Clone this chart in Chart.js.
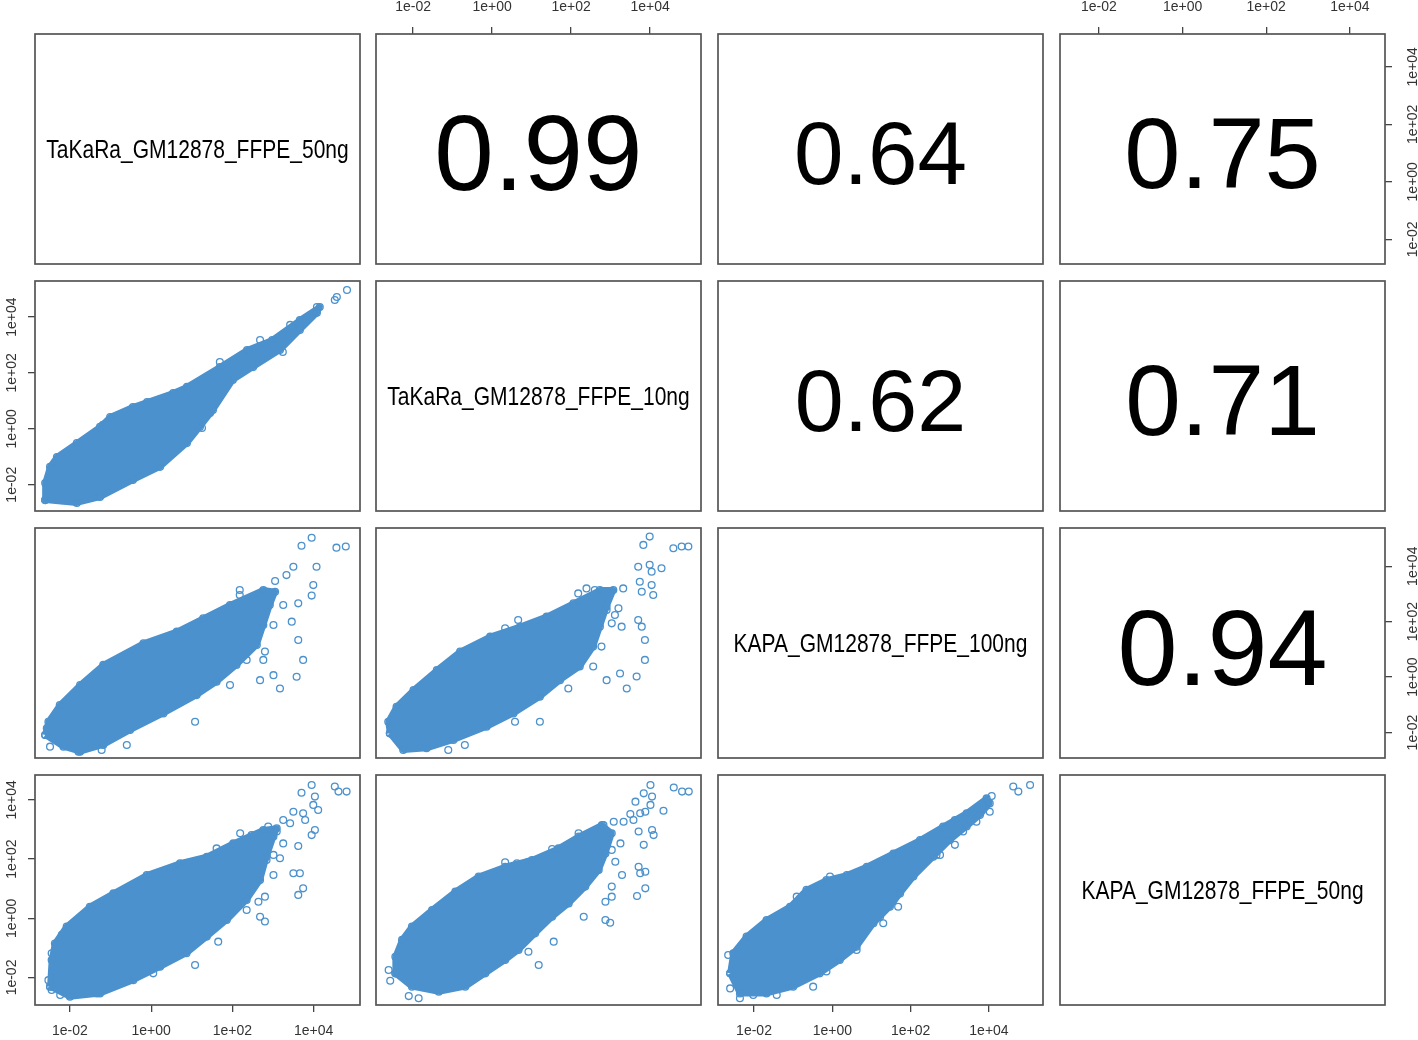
<!DOCTYPE html>
<html>
<head>
<meta charset="utf-8">
<script src="https://cdn.jsdelivr.net/npm/chart.js@4.4.1/dist/chart.umd.min.js"></script>
<style>
  html, body { margin: 0; padding: 0; background: #fff; }
  #wrap { position: relative; width: 1418px; height: 1040px; overflow: hidden; }
  #wrap canvas { position: absolute; }
</style>
</head>
<body>
<div id="wrap"></div>
<script>
// variables of the pairs plot (diagonal labels)
const varNames = ['TaKaRa_GM12878_FFPE_50ng', 'TaKaRa_GM12878_FFPE_10ng', 'KAPA_GM12878_FFPE_100ng', 'KAPA_GM12878_FFPE_50ng'];
// axis limits of each variable, in log10 units
const axisMin = [-2.86, -2.94, -2.92, -2.93];
const axisMax = [5.14, 5.29, 5.38, 4.84];
const tickValues = [-2, 0, 2, 4];
const tickLabels = ['1e-02', '1e+00', '1e+02', '1e+04'];

// upper panels: correlation text
const corrPairs = [[0, 1], [0, 2], [0, 3], [1, 2], [1, 3], [2, 3]];
const corrLabels = ['0.99', '0.64', '0.75', '0.62', '0.71', '0.94'];

// lower panels: outline of the dense cloud + stray points, [log10 x, log10 y]
const cloud21 = [[-2.61,-2.55],[-1.83,-2.65],[-1.26,-2.44],[-0.45,-1.83],[0.22,-1.36],[0.88,-0.51],[1.20,0.07],[1.52,0.67],[2.01,1.75],[2.51,2.21],[3.17,2.82],[3.66,3.54],[4.08,4.15],[4.15,4.36],[3.66,3.89],[2.98,3.18],[2.36,2.82],[1.69,2.21],[0.88,1.50],[0.54,1.28],[-0.10,0.96],[-0.45,0.78],[-1.01,0.42],[-1.26,0.07],[-1.83,-0.51],[-2.32,-1.01],[-2.49,-1.36],[-2.61,-1.94]];
const out21 = [[4.82,4.97],[4.57,4.72],[4.52,4.61],[4.08,4.36],[3.24,2.75],[2.68,3.18],[1.69,2.39],[1.25,0.03],[1.45,0.57],[-0.60,0.50],[-1.19,0.14],[-2.56,-2.26],[-2.20,-2.55],[3.42,3.72],[3.85,3.97]];

const cloud31 = [[-2.61,-2.09],[-2.16,-2.51],[-1.75,-2.69],[-1.18,-2.45],[-0.52,-1.91],[0.30,-1.31],[1.12,-0.65],[1.61,-0.17],[2.10,0.44],[2.60,1.16],[2.76,1.88],[2.92,2.60],[3.05,3.08],[2.76,3.14],[1.94,2.60],[1.28,2.12],[0.63,1.64],[-0.19,1.22],[-1.18,0.44],[-1.75,-0.29],[-2.25,-1.01],[-2.53,-1.61]];
const out31 = [[3.95,5.03],[3.70,4.74],[4.56,4.67],[4.79,4.71],[3.50,3.98],[4.07,3.98],[3.99,3.32],[3.33,3.68],[3.05,3.47],[2.18,3.14],[2.18,2.96],[3.62,2.66],[3.95,2.94],[3.25,2.60],[3.46,2.00],[3.01,1.88],[3.62,1.34],[3.74,0.62],[2.76,0.62],[2.35,0.62],[3.01,0.07],[3.58,0.01],[2.68,-0.11],[3.17,-0.41],[1.94,-0.29],[1.08,-1.61],[-0.60,-2.45],[-1.22,-2.63],[-1.79,-2.69],[-2.57,-1.85],[-2.49,-2.51],[2.80,0.92]];

const cloud32 = [[-2.59,-2.03],[-2.25,-2.63],[-1.66,-2.57],[-0.98,-2.27],[-0.14,-1.79],[0.54,-1.31],[1.21,-0.71],[1.72,-0.11],[2.22,0.38],[2.56,1.10],[2.73,1.82],[2.90,2.54],[3.07,3.14],[2.73,3.14],[2.06,2.66],[1.38,2.18],[0.71,1.82],[-0.05,1.46],[-0.81,0.92],[-1.40,0.25],[-1.99,-0.47],[-2.42,-1.07],[-2.63,-1.61]];
const out32 = [[3.99,5.07],[3.83,4.77],[4.59,4.65],[4.80,4.71],[4.97,4.71],[3.70,3.98],[3.99,4.05],[4.29,3.93],[4.04,3.80],[3.74,3.44],[4.04,3.32],[3.79,3.08],[4.08,2.96],[3.32,3.20],[2.60,3.14],[2.39,3.20],[2.18,3.02],[3.20,2.48],[2.90,2.42],[3.11,2.24],[3.03,1.94],[3.28,1.82],[3.70,2.06],[3.79,1.82],[3.87,1.34],[3.87,0.62],[3.66,0.02],[3.41,-0.41],[3.24,0.13],[2.90,-0.11],[2.56,0.38],[2.77,1.10],[1.93,-0.41],[1.21,-1.61],[0.58,-1.61],[0.66,2.06],[0.33,1.76],[-0.69,-2.45],[-1.11,-2.63]];

const cloud41 = [[-2.49,-2.31],[-2.00,-2.65],[-1.26,-2.54],[-0.44,-2.09],[0.22,-1.64],[0.87,-1.18],[1.37,-0.62],[1.86,-0.06],[2.35,0.62],[2.68,1.29],[2.84,2.08],[3.01,2.76],[3.09,3.04],[2.76,2.98],[2.02,2.53],[1.37,2.08],[0.71,1.86],[-0.11,1.46],[-0.93,0.84],[-1.51,0.39],[-2.08,-0.28],[-2.37,-0.85],[-2.45,-1.41]];
const out41 = [[3.95,4.50],[3.70,4.24],[4.03,4.11],[4.52,4.45],[4.61,4.28],[4.81,4.28],[3.50,3.60],[3.74,3.55],[3.99,3.83],[4.11,3.66],[3.25,3.32],[3.42,3.21],[3.79,3.32],[2.88,3.10],[2.19,2.87],[2.47,2.81],[3.09,2.93],[3.25,2.53],[3.62,2.44],[3.95,2.81],[4.03,2.98],[3.01,2.14],[3.17,2.03],[2.84,1.97],[2.68,2.25],[3.50,1.52],[3.66,1.52],[3.01,1.46],[2.51,1.63],[3.74,1.01],[3.62,0.79],[2.39,1.18],[2.80,0.73],[2.64,0.56],[2.35,0.28],[2.68,0.05],[2.80,-0.11],[1.65,-0.79],[1.08,-1.58],[0.05,-1.86],[-1.34,-2.54],[-2.24,-2.59],[-2.45,-2.42],[-2.53,-2.09],[-2.45,-1.18],[-2.20,-0.56],[1.61,2.36]];

const cloud42 = [[-2.45,-1.86],[-2.03,-2.31],[-1.35,-2.48],[-0.68,-2.31],[-0.17,-1.86],[0.33,-1.41],[0.67,-1.07],[1.09,-0.51],[1.52,0.05],[1.94,0.50],[2.36,1.07],[2.70,1.63],[2.87,2.19],[3.03,2.87],[2.78,3.15],[2.19,2.76],[1.68,2.36],[1.01,1.97],[0.33,1.74],[-0.34,1.41],[-0.93,0.90],[-1.52,0.28],[-2.03,-0.28],[-2.28,-0.73],[-2.45,-1.30]];
const out42 = [[4.01,4.50],[3.84,4.22],[4.05,4.11],[4.60,4.42],[4.81,4.28],[4.98,4.28],[3.63,3.94],[4.01,3.83],[4.34,3.63],[3.50,3.52],[3.75,3.55],[3.88,3.60],[2.82,3.15],[3.08,3.26],[3.33,3.26],[3.58,3.32],[2.19,2.87],[1.52,2.34],[1.18,1.91],[0.63,1.86],[0.33,1.89],[0.92,1.91],[3.71,2.93],[4.05,2.98],[4.09,2.81],[3.25,2.53],[3.84,2.48],[3.03,2.31],[3.12,1.91],[3.71,1.74],[3.88,1.57],[3.75,1.52],[3.29,1.46],[3.03,1.07],[3.67,0.75],[3.88,1.01],[2.87,0.56],[3.03,0.73],[2.87,-0.06],[2.99,-0.15],[2.32,0.05],[1.56,-0.79],[1.18,-1.58],[0.92,-1.13],[-1.86,-2.70],[-2.11,-2.63],[-2.62,-1.75],[-2.58,-2.11]];

const cloud43 = [[-2.61,-1.86],[-2.36,-2.54],[-1.68,-2.54],[-1.00,-2.31],[-0.32,-1.86],[0.19,-1.41],[0.62,-0.96],[1.05,-0.17],[1.47,0.39],[1.73,0.84],[2.07,1.41],[2.58,2.08],[3.00,2.64],[3.43,3.10],[3.77,3.49],[4.02,3.88],[3.94,4.05],[3.43,3.55],[2.83,3.10],[2.24,2.64],[1.56,2.19],[0.88,1.74],[0.37,1.46],[-0.15,1.29],[-0.66,0.96],[-1.08,0.39],[-1.68,-0.06],[-2.19,-0.62],[-2.53,-1.18]];
const out43 = [[4.62,4.45],[4.75,4.28],[5.05,4.50],[4.07,4.13],[3.94,3.88],[4.02,3.60],[3.68,3.60],[3.43,3.49],[3.68,3.26],[3.13,3.32],[3.34,2.93],[3.13,2.48],[2.75,2.14],[2.66,2.14],[1.98,2.36],[1.64,1.97],[1.30,-0.17],[1.68,0.39],[1.56,0.62],[1.22,0.05],[0.62,-1.07],[-0.15,-1.80],[-0.49,-2.31],[-1.42,-2.59],[-2.02,-2.59],[-2.36,-2.70],[-2.61,-2.37],[-2.66,-1.24],[-2.27,-1.30],[-0.83,0.67],[-0.91,0.73],[-1.98,-0.56],[-1.34,0.11],[0.79,1.63],[-0.06,1.41]];

const scatterPanels = {
  '1-0': [cloud21, out21],
  '2-0': [cloud31, out31],
  '2-1': [cloud32, out32],
  '3-0': [cloud41, out41],
  '3-1': [cloud42, out42],
  '3-2': [cloud43, out43]
};

// layout and style
const M = 45;
const colLeft = [35, 376, 718, 1060];
const rowTop = [34, 281, 528, 775];
const PW = 325, PH = 230;
const blue = '#4b91cd';
const sans = "'Liberation Sans', Arial, sans-serif";
const corrSize = { '0.99': 107, '0.64': 89, '0.75': 101, '0.62': 88, '0.71': 100, '0.94': 108 };

const panelPlugin = {
  id: 'panel',
  afterDraw(chart, args, opts) {
    const { ctx, chartArea: a } = chart;
    ctx.save();
    ctx.strokeStyle = '#555';
    ctx.lineWidth = 1.7;
    ctx.strokeRect(a.left, a.top, a.right - a.left, a.bottom - a.top);
    if (opts.text) {
      const cx = (a.left + a.right) / 2;
      const cy = (a.top + a.bottom) / 2;
      ctx.fillStyle = '#000';
      ctx.font = opts.size + 'px ' + sans;
      ctx.textAlign = 'center';
      ctx.textBaseline = 'alphabetic';
      // R's Helvetica text is narrower than Liberation Sans
      ctx.translate(cx, cy);
      ctx.scale(opts.squeeze, 1);
      ctx.fillText(opts.text, 0, opts.size * 0.358 + opts.dy);
    }
    ctx.restore();
  }
};

function toPts(arr) {
  return arr.map(p => ({ x: p[0], y: p[1] }));
}

function axisOpts(v, pos, show, vertical) {
  return {
    type: 'linear',
    position: pos,
    min: axisMin[v],
    max: axisMax[v],
    afterBuildTicks: s => { s.ticks = tickValues.map(t => ({ value: t })); },
    afterFit: s => { if (s.isHorizontal()) s.height = M; else s.width = M; },
    grid: { display: show, drawOnChartArea: false, drawTicks: show, tickLength: 7, color: '#444', lineWidth: 1.3 },
    border: { display: false },
    ticks: {
      display: show,
      autoSkip: false,
      color: '#333',
      font: { family: sans, size: 14 },
      padding: vertical ? (pos === 'left' ? -4 : 1) : 11,
      minRotation: vertical ? 90 : 0,
      maxRotation: vertical ? 90 : 0,
      crossAlign: vertical ? 'center' : 'near',
      callback: (val, i) => tickLabels[i]
    }
  };
}

const wrap = document.getElementById('wrap');

for (let r = 0; r < 4; r++) {
  for (let c = 0; c < 4; c++) {
    const canvas = document.createElement('canvas');
    canvas.width = PW + 2 * M;
    canvas.height = PH + 2 * M;
    canvas.style.left = (colLeft[c] - M) + 'px';
    canvas.style.top = (rowTop[r] - M) + 'px';
    wrap.appendChild(canvas);

    const xPos = (r === 0 && c % 2 === 1) ? 'top' : 'bottom';
    const showX = (r === 0 && c % 2 === 1) || (r === 3 && c % 2 === 0);
    const yPos = (c === 3 && r % 2 === 0) ? 'right' : 'left';
    const showY = (c === 3 && r % 2 === 0) || (c === 0 && r % 2 === 1);

    let panelOpts = { text: null };
    const datasets = [];
    if (r === c) {
      panelOpts = { text: varNames[r], size: 25, squeeze: 0.84, dy: 0 };
    } else if (r < c) {
      const k = corrPairs.findIndex(p => p[0] === r && p[1] === c);
      const lab = corrLabels[k];
      panelOpts = { text: lab, size: corrSize[lab], squeeze: 1, dy: 3 };
    } else {
      const [cloud, out] = scatterPanels[r + '-' + c];
      datasets.push({
        data: toPts(cloud.concat([cloud[0]])),
        showLine: true,
        fill: 'shape',
        tension: 0,
        backgroundColor: blue,
        borderColor: blue,
        borderWidth: 6,
        borderJoinStyle: 'round',
        pointRadius: 3.4,
        pointBorderWidth: 1.3,
        pointBorderColor: blue,
        pointBackgroundColor: 'rgba(0,0,0,0)'
      });
      datasets.push({
        data: toPts(out),
        showLine: false,
        pointRadius: 3.4,
        pointBorderWidth: 1.3,
        pointBorderColor: blue,
        pointBackgroundColor: 'rgba(0,0,0,0)'
      });
    }

    new Chart(canvas.getContext('2d'), {
      type: 'scatter',
      data: { datasets },
      options: {
        responsive: false,
        animation: false,
        events: [],
        layout: {
          padding: {
            top: xPos === 'top' ? 0 : M,
            bottom: xPos === 'bottom' ? 0 : M,
            left: yPos === 'left' ? 0 : M,
            right: yPos === 'right' ? 0 : M
          }
        },
        plugins: {
          legend: { display: false },
          tooltip: { enabled: false },
          panel: panelOpts
        },
        scales: {
          x: axisOpts(c, xPos, showX, false),
          y: axisOpts(r, yPos, showY, true)
        }
      },
      plugins: [panelPlugin]
    });
  }
}
</script>
</body>
</html>
